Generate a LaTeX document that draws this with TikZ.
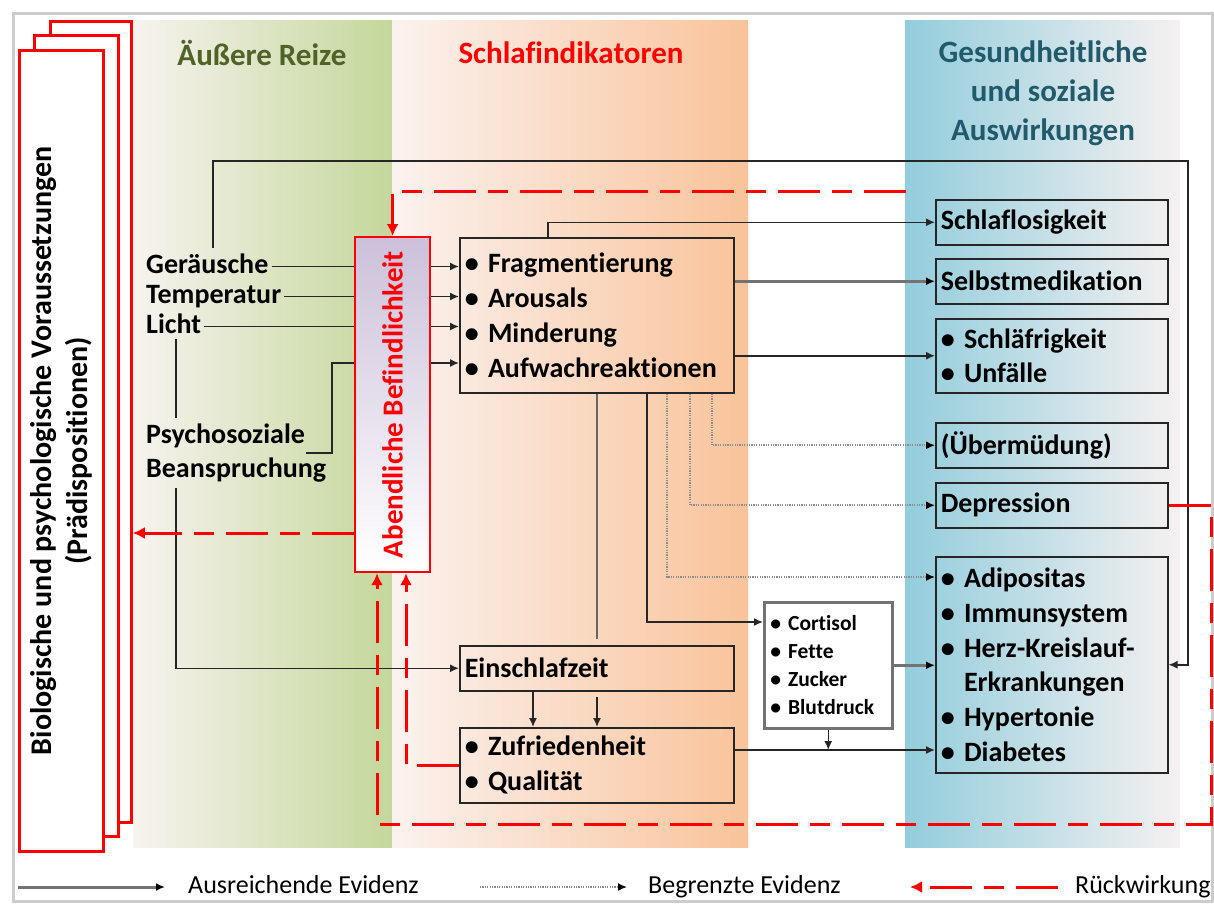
\documentclass[tikz,border=0pt]{standalone}
\usepackage{fontspec}
\setmainfont{Carlito}[Ligatures=NoCommon]
\usetikzlibrary{arrows.meta,calc}
\definecolor{cGreen}{HTML}{C4D79B}
\definecolor{cGreenL}{HTML}{F7F3EF}
\definecolor{cOr}{HTML}{F9C39A}
\definecolor{cOrL}{HTML}{FBF2EF}
\definecolor{cBlue}{HTML}{93CDDC}
\definecolor{cBlueL}{HTML}{F5F1F1}
\definecolor{cLav}{HTML}{CCC0DA}
\definecolor{cOlive}{HTML}{4F6228}
\definecolor{cTeal}{HTML}{215A6B}
\definecolor{cRed}{HTML}{FF0000}
\tikzset{
  T/.style={font=\bfseries\fontsize{28}{34.8}\selectfont, text=black},
  lab/.style={T, inner xsep=3pt, inner ysep=0pt, anchor=west, text height=19pt, text depth=6pt},
  ttl/.style={font=\bfseries\fontsize{31}{39}\selectfont, align=center},
  bx/.style={draw=black!85, line width=1.5pt, anchor=north west, inner xsep=5pt, inner ysep=0pt, align=left, T},
  ln/.style={draw=black!85, line width=1.5pt},
  arr/.style={ln, -{Latex[length=9pt,width=8pt]}},
  garr/.style={draw=black!55, line width=3pt, -{Latex[length=9pt,width=8pt,black]}},
  dotarr/.style={draw=black!45, line width=1.6pt, dash pattern=on 1.2pt off 1.2pt, -{Latex[length=9pt,width=8pt,black]}},
  rline/.style={draw=cRed, line width=3pt, dash pattern=on 42pt off 12pt on 20pt off 12pt},
  rarr/.style={rline, -{Latex[length=12pt,width=12pt]}},
  stack/.style={draw=cRed, line width=2.8pt, fill=white, anchor=north west, inner sep=0pt, minimum width=84pt, minimum height=801pt},
  leg/.style={font=\fontsize{26}{30}\selectfont, anchor=west, inner sep=0pt, text height=17pt, text depth=5pt},
}
\begin{document}
\begin{tikzpicture}[x=1pt,y=-1pt]
\useasboundingbox (0,0) rectangle (1214,903);
\fill[white] (0,0) rectangle (1214,903);
\draw[gray!40, line width=3pt] (13,13) rectangle (1212,901);
% columns
\shade[left color=cGreenL, right color=cGreen] (133,20) rectangle (392,847);
\shade[left color=cOrL, right color=cOr] (392,20) rectangle (748,847);
\shade[left color=cBlue, right color=cBlueL] (905,20) rectangle (1180,847);
% titles
\node[ttl, text=cOlive] (t1) at (262,53) {Äußere Reize};
\node[ttl, text=cRed] (t2) at (571,53) {Schlafindikatoren};
\node[ttl, text=cTeal] (t3) at (1043,93) {Gesundheitliche\\und soziale\\Auswirkungen};
% stacked boxes
\node[stack, minimum width=81pt] (bk3) at (49,20) {};
\node[stack] (bk2) at (33,34) {};
\node[stack] (bk1) at (18,49) {};
\node[T, font=\bfseries\fontsize{30}{36}\selectfont, rotate=90, align=center] (pre) at (bk1.center) {Biologische und psychologische Voraussetzungen\\(Prädispositionen)};
% Befindlichkeit
\node[draw=cRed, line width=2.2pt, top color=cLav, bottom color=white, anchor=north west, inner sep=0pt, minimum width=75pt, minimum height=335pt] (befind) at (354,236) {};
\node[T, font=\bfseries\fontsize{29}{34}\selectfont, text=cRed, rotate=90] (befindT) at (befind.center) {Abendliche Befindlichkeit};
% labels
\node[lab] (ger) at (143,266.5) {Geräusche};
\node[lab] (temp) at (143,296.5) {Temperatur};
\node[lab] (licht) at (143,326.5) {Licht};
\node[T, inner sep=0pt, anchor=west, align=left] (psy) at (146,453) {Psychosoziale\\Beanspruchung};
% boxes
\node[bx, minimum width=274pt, minimum height=155pt, text width=264pt] (frag) at (459,237) {\textbullet\ Fragmentierung\\\textbullet\ Arousals\\\textbullet\ Minderung\\\textbullet\ Aufwachreaktionen};
\node[bx, minimum width=274pt, minimum height=45pt, text width=264pt] (einsch) at (459,645) {Einschlafzeit};
\node[bx, minimum width=274pt, minimum height=75pt, text width=264pt] (zufr) at (459,727) {\textbullet\ Zufriedenheit\\\textbullet\ Qualität};
\node[bx, draw=black!55, line width=2.5pt, fill=white, font=\bfseries\fontsize{21.5}{28}\selectfont, minimum width=128pt, minimum height=126pt, text width=116pt, inner xsep=6pt] (cort) at (763,601) {\textbullet\ Cortisol\\\textbullet\ Fette\\\textbullet\ Zucker\\\textbullet\ Blutdruck};
\node[bx, minimum width=232pt, minimum height=45pt, text width=222pt] (schlaflos) at (935,199) {Schlaflosigkeit};
\node[bx, minimum width=232pt, minimum height=45pt, text width=222pt] (selbst) at (935,258) {Selbstmedikation};
\node[bx, minimum width=232pt, minimum height=74pt, text width=222pt] (schlaefrig) at (935,318) {\textbullet\ Schläfrigkeit\\\textbullet\ Unfälle};
\node[bx, minimum width=232pt, minimum height=45pt, text width=222pt] (uebermued) at (935,422) {(Übermüdung)};
\node[bx, minimum width=232pt, minimum height=45pt, text width=222pt] (depr) at (935,482) {Depression};
\node[bx, minimum width=232pt, minimum height=216pt, text width=222pt] (adip) at (935,556) {\textbullet\ Adipositas\\\textbullet\ Immunsystem\\\textbullet\ Herz-Kreislauf-\\\phantom{\textbullet\ }Erkrankungen\\\textbullet\ Hypertonie\\\textbullet\ Diabetes};
% helper coordinates
\coordinate (x176) at (176,0);
\coordinate (x213) at (213,0);
\coordinate (x377) at (377,0);
\coordinate (x406) at (406,0);
\coordinate (x533) at (533,0);
\coordinate (x548) at (548,0);
\coordinate (x597) at (597,0);
\coordinate (x647) at (647,0);
\coordinate (x667) at (667,0);
\coordinate (x690) at (690,0);
\coordinate (x712) at (712,0);
\coordinate (yAdi) at (0,577);
\coordinate (yCort) at (0,622);
\coordinate (yDia) at (0,750);
\coordinate (y533) at (0,533);
\coordinate (pk) at (332,363);
\coordinate (tr) at (1188,161);
\coordinate (rs) at (906,191);
\coordinate (rbr) at (1211,824);
\coordinate (e597) at (597,639);
\coordinate (s597) at (597,697);
\coordinate (g0) at ([yshift=6pt]ger.north);
\coordinate (pn) at ([yshift=5pt]psy.north);
\coordinate (ps) at ([yshift=-5pt]psy.south);
\coordinate (pe) at ([xshift=-20pt]psy.east);
% inputs
\draw[ln] (ger.east) -- (ger.east -| befind.west);
\draw[ln] (temp.east) -- (temp.east -| befind.west);
\draw[ln] (licht.east) -- (licht.east -| befind.west);
\draw[ln] (pe) -| (pk) -- (pk -| befind.west);
\draw[arr] (ger.east -| befind.east) -- (ger.east -| frag.west);
\draw[arr] (temp.east -| befind.east) -- (temp.east -| frag.west);
\draw[arr] (licht.east -| befind.east) -- (licht.east -| frag.west);
\draw[arr] (pk -| befind.east) -- (pk -| frag.west);
\draw[ln] (licht.south -| x176) -- (pn -| x176);
\draw[arr] (ps -| x176) |- (einsch.west);
\draw[arr] (g0 -| x213) |- (tr) |- (adip.east);
% from fragmentierung
\draw[arr] (frag.north -| x548) |- (schlaflos.west);
\draw[garr] (frag.east |- selbst.west) -- (selbst.west);
\draw[arr] (frag.east |- schlaefrig.west) -- (schlaefrig.west);
\draw[dotarr] (frag.south -| x712) |- (uebermued.west);
\draw[dotarr] (frag.south -| x690) |- (depr.west);
\draw[dotarr] (frag.south -| x667) |- (adip.west |- yAdi);
\draw[arr] (frag.south -| x647) |- (cort.west |- yCort);
\draw[ln, draw=black!60] (frag.south -| x597) -- (e597);
\draw[arr] (einsch.south -| x533) -- (zufr.north -| x533);
\draw[arr] (s597) -- (zufr.north -| x597);
\draw[arr] (zufr.east |- yDia) -- (adip.west |- yDia);
\draw[arr] (cort.south) -- (cort.south |- yDia);
\draw[garr] (cort.east) -- (adip.west |- cort.east);
% red feedback
\draw[rarr] (rs) -| (befind.north);
\draw[rarr] (befind.west |- y533) -- (bk3.east |- y533);
\draw[rarr] (depr.east) -| (rbr) -| (befind.south -| x377);
\draw[rarr] (zufr.west) -| (befind.south -| x406);
% legend
\coordinate (l1a) at (18,887);
\coordinate (l1b) at (165,887);
\coordinate (l2a) at (480,887);
\coordinate (l2b) at (627,887);
\coordinate (l3a) at (1058,887);
\coordinate (l3b) at (910,887);
\draw[garr] (l1a) -- (l1b);
\node[leg] (lt1) at (188,887) {Ausreichende Evidenz};
\draw[dotarr] (l2a) -- (l2b);
\node[leg] (lt2) at (648,887) {Begrenzte Evidenz};
\draw[rarr] (l3a) -- (l3b);
\node[leg] (lt3) at (1075,887) {Rückwirkung};
\end{tikzpicture}
\end{document}
